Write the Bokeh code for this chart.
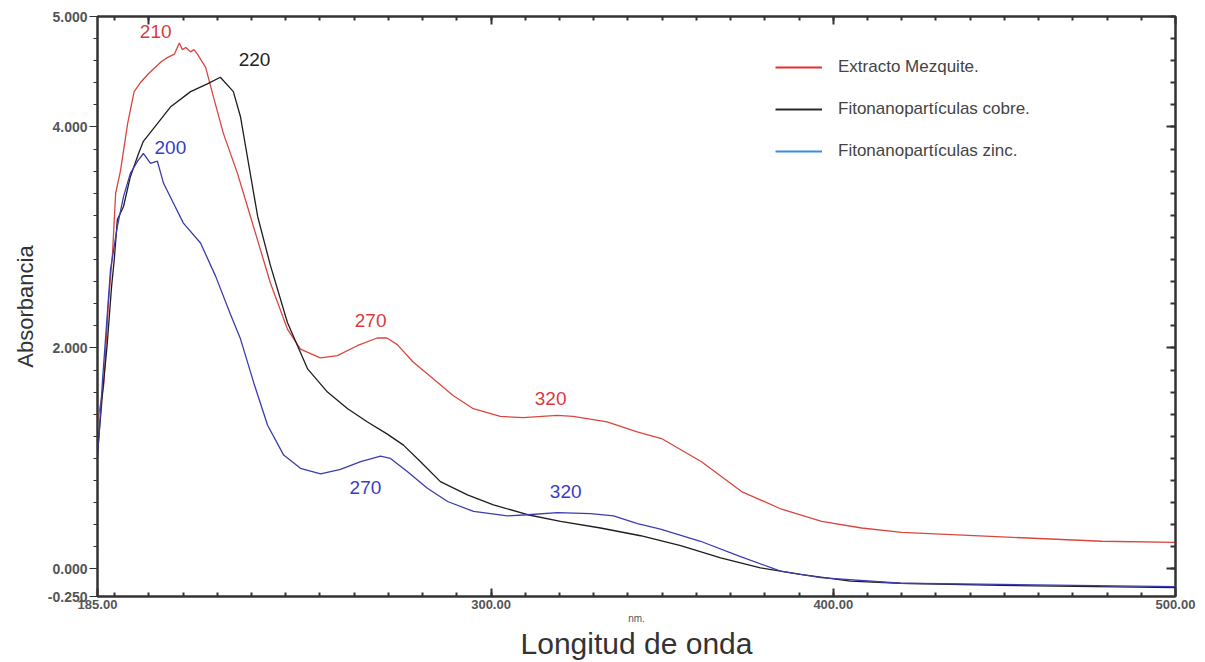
from bokeh.plotting import figure
from bokeh.models import (Range1d, LinearAxis, FixedTicker, NumeralTickFormatter,
                          Legend, LegendItem, CustomLabelingPolicy)
from bokeh.embed import file_html
from bokeh.resources import INLINE
from bokeh.core.properties import value

# ---------------- data ----------------
red_nm = [185.0, 186.8, 188.2, 189.4, 190.3, 191.7, 193.8, 195.7, 197.5, 199.8, 201.5,
          203.6, 205.5, 207.5, 208.9, 209.8, 210.8, 212.2, 213.2, 214.2, 216.6, 218.9,
          221.8, 225.9, 229.7, 235.5, 240.5, 244.3, 250.1, 255.1, 260.9, 266.7, 269.6,
          272.6, 277.3, 283.1, 288.9, 294.8, 302.7, 309.4, 319.3, 324.0, 333.9, 342.7,
          349.8, 361.5, 373.2, 384.9, 396.6, 408.3, 420.0, 449.2, 478.5, 500.0]
red_abs = [1.33, 1.66, 2.41, 2.86, 3.40, 3.60, 4.03, 4.32, 4.40, 4.48, 4.53,
           4.59, 4.63, 4.66, 4.76, 4.70, 4.72, 4.68, 4.70, 4.66, 4.54, 4.27,
           3.94, 3.58, 3.19, 2.59, 2.17, 1.99, 1.91, 1.93, 2.02, 2.09, 2.09,
           2.03, 1.87, 1.72, 1.57, 1.45, 1.38, 1.37, 1.39, 1.38, 1.33, 1.24,
           1.18, 0.97, 0.70, 0.54, 0.43, 0.37, 0.33, 0.29, 0.25, 0.24]

blk_nm = [185.0, 186.5, 187.8, 189.1, 189.9, 190.8, 192.6, 194.6, 197.0, 198.4,
          202.5, 206.3, 212.2, 217.1, 220.9, 224.7, 226.8, 228.8, 231.8, 235.5,
          240.5, 246.4, 252.2, 258.1, 263.9, 269.7, 274.4, 279.4, 285.2, 293.1,
          300.7, 310.7, 320.3, 332.0, 343.7, 355.4, 367.1, 378.7, 390.4, 405.0,
          419.7, 448.9, 500.0]
blk_abs = [1.05, 1.60, 2.02, 2.55, 2.80, 3.16, 3.28, 3.55, 3.76, 3.87,
           4.03, 4.18, 4.32, 4.39, 4.45, 4.32, 4.09, 3.73, 3.19, 2.75,
           2.23, 1.81, 1.60, 1.45, 1.33, 1.22, 1.12, 0.97, 0.79, 0.67,
           0.58, 0.49, 0.43, 0.37, 0.30, 0.21, 0.10, 0.01, -0.05, -0.11,
           -0.13, -0.15, -0.17]

blu_nm = [185.0, 186.5, 188.8, 190.8, 192.6, 194.6, 196.7, 198.4, 200.5, 202.5,
          204.3, 207.2, 210.1, 215.1, 219.5, 223.9, 226.8, 230.6, 234.7, 239.4,
          244.3, 250.2, 256.0, 261.9, 267.7, 270.6, 275.6, 281.4, 287.3, 294.9,
          304.8, 310.7, 319.4, 329.1, 335.8, 342.8, 349.5, 361.2, 372.9, 384.6,
          396.3, 419.7, 448.9, 500.0]
blu_abs = [1.00, 1.72, 2.71, 3.10, 3.37, 3.58, 3.69, 3.76, 3.67, 3.69,
           3.49, 3.31, 3.13, 2.95, 2.65, 2.30, 2.08, 1.69, 1.30, 1.03,
           0.91, 0.86, 0.90, 0.97, 1.02, 1.00, 0.88, 0.73, 0.61, 0.52,
           0.48, 0.49, 0.51, 0.50, 0.48, 0.41, 0.36, 0.25, 0.11, -0.02,
           -0.08, -0.13, -0.14, -0.16]

series_names = ["Extracto Mezquite.", "Fitonanopart\u00edculas cobre.", "Fitonanopart\u00edculas zinc."]
legend_colors = ["#e8302c", "#2a2a2a", "#3a8ee0"]

peak_nm = [202.0, 230.9, 206.3, 264.8, 317.4, 263.3, 321.8]
peak_abs = [4.86, 4.61, 3.81, 2.25, 1.54, 0.74, 0.70]
peak_text = ["210", "220", "200", "270", "320", "270", "320"]
peak_color = ["#d93a3a", "#222222", "#3b3bc8", "#d93a3a", "#d93a3a", "#3b3bc8", "#3b3bc8"]

x_major = [185, 300, 400, 500]
x_minor = list(range(190, 500, 10))
y_major = [-0.25, 0.0, 2.0, 4.0, 5.0]
y_minor = [round(v * 0.2, 1) for v in range(0, 26)]

FONT = "Liberation Sans"
AX = "#333333"

p = figure(width=1205, height=662, output_backend="svg", toolbar_location=None,
           x_range=Range1d(185, 500), y_range=Range1d(-0.25, 5.0),
           min_border_left=97, min_border_right=30, min_border_top=12, min_border_bottom=66,
           x_axis_label="nm.", y_axis_label="Absorbancia")
p.grid.visible = False
p.outline_line_color = AX
p.outline_line_width = 2
p.background_fill_color = "white"
p.border_fill_color = "white"

red = p.line(red_nm, red_abs, line_color="#d9463f", line_width=1.3)
blk = p.line(blk_nm, blk_abs, line_color="#1e1e1e", line_width=1.3)
blu = p.line(blu_nm, blu_abs, line_color="#3c3cb0", line_width=1.3)

p.text(x=peak_nm, y=peak_abs, text=peak_text, text_color=peak_color,
       text_font=value(FONT), text_font_size="19px", text_align="center",
       text_baseline="middle")

# bottom axis
xa = p.xaxis[0]
xa.ticker = FixedTicker(ticks=x_major, minor_ticks=x_minor)
xa.formatter = NumeralTickFormatter(format="0.00")
xa.major_tick_in = 8
xa.major_tick_out = 0
xa.minor_tick_in = 4
xa.minor_tick_out = 0
xa.axis_line_color = AX
xa.axis_line_width = 2
xa.major_tick_line_color = AX
xa.minor_tick_line_color = AX
xa.major_tick_line_width = 2
xa.minor_tick_line_width = 2
xa.major_label_text_font = FONT
xa.major_label_text_font_style = "bold"
xa.major_label_text_font_size = "13px"
xa.major_label_text_color = "#555555"
xa.major_label_standoff = 3
xa.axis_label_text_font = FONT
xa.axis_label_text_font_size = "10px"
xa.axis_label_text_font_style = "normal"
xa.axis_label_text_color = "#555555"
xa.axis_label_standoff = 1

# second bottom axis that only carries the big title
xa2 = LinearAxis(ticker=FixedTicker(ticks=[]), axis_label="Longitud de onda",
                 axis_line_color=None, major_tick_line_color=None, minor_tick_line_color=None,
                 axis_label_text_font=FONT, axis_label_text_font_size="30px",
                 axis_label_text_font_style="normal", axis_label_text_color="#333333",
                 axis_label_standoff=0)
p.add_layout(xa2, "below")

# left axis
ya = p.yaxis[0]
ya.ticker = FixedTicker(ticks=y_major, minor_ticks=y_minor)
ya.formatter = NumeralTickFormatter(format="0.000")
ya.major_tick_in = 0
ya.major_tick_out = 8
ya.minor_tick_in = 0
ya.minor_tick_out = 4
ya.axis_line_color = AX
ya.axis_line_width = 2
ya.major_tick_line_color = AX
ya.minor_tick_line_color = AX
ya.major_label_text_font = FONT
ya.major_label_text_font_style = "bold"
ya.major_label_text_font_size = "14px"
ya.major_label_text_color = "#555555"
ya.major_label_standoff = 2
ya.axis_label_text_font = FONT
ya.axis_label_text_font_size = "22px"
ya.axis_label_text_font_style = "normal"
ya.axis_label_text_color = "#333333"
ya.axis_label_standoff = 7

top = LinearAxis(ticker=FixedTicker(ticks=[200, 300, 400, 500], minor_ticks=x_minor),
                 major_label_policy=CustomLabelingPolicy(code="for (const i of indices) indices.unset(i); return indices"),
                 major_tick_in=8, major_tick_out=0,
                 minor_tick_in=4, minor_tick_out=0, axis_line_color=AX,
                 axis_line_width=2, major_tick_line_color=AX, major_tick_line_width=2,
                 minor_tick_line_color=AX, minor_tick_line_width=2)
p.add_layout(top, "above")
right = LinearAxis(ticker=FixedTicker(ticks=[0.0, 2.0, 4.0], minor_ticks=y_minor),
                   major_label_policy=CustomLabelingPolicy(code="for (const i of indices) indices.unset(i); return indices"),
                   major_tick_in=9, major_tick_out=0,
                   minor_tick_in=5, minor_tick_out=0, axis_line_color=AX,
                   axis_line_width=2, major_tick_line_color=AX, major_tick_line_width=2,
                   minor_tick_line_color=AX, minor_tick_line_width=2)
p.add_layout(right, "right")

# legend (own glyph colours as in the reference)
nan = float("nan")
lg = [p.line([nan], [nan], line_color=c, line_width=2) for c in legend_colors]
legend = Legend(items=[LegendItem(label=series_names[i], renderers=[lg[i]]) for i in range(3)],
                location=(678, 435), orientation="vertical",
                label_text_font=FONT, label_text_font_size="17px",
                label_text_color="#444444", glyph_width=47, glyph_height=20,
                label_height=20, label_standoff=16, spacing=22, padding=0, margin=0,
                border_line_color=None, background_fill_alpha=0)
p.add_layout(legend, "center")

open("out.html", "w").write(file_html(p, INLINE))
